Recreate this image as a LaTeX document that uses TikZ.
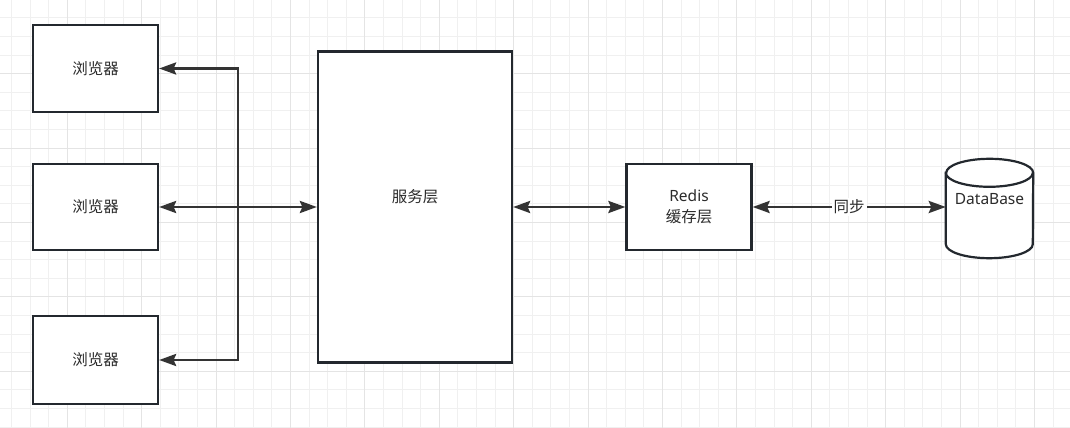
\documentclass[tikz,border=0pt]{standalone}
\usepackage{fontspec}
\setmainfont{Noto Sans}
\newfontfamily\cjk{Noto Sans CJK SC}
\usetikzlibrary{arrows.meta}
\definecolor{edgecol}{HTML}{23282E}
\definecolor{linecol}{HTML}{333333}
\definecolor{textcol}{HTML}{2B2B2B}
\definecolor{minorcol}{HTML}{F0F0F0}
\definecolor{majorcol}{HTML}{E4E4E4}
\tikzset{
  box/.style={draw=edgecol, line width=2.2pt, fill=white, text=textcol,
    font=\fontsize{15.5}{21}\selectfont, align=center},
  conn/.style={draw=linecol, line width=2.8pt,
    arrows={Stealth[length=17pt,width=12pt,inset=2.5pt]-Stealth[length=17pt,width=12pt,inset=2.5pt]}},
  txt/.style={text=textcol, font=\fontsize{15.5}{21}\selectfont, inner sep=2pt}
}
\begin{document}
\begin{tikzpicture}[x=1pt,y=1pt]
  \useasboundingbox (0,0) rectangle (1070,428);
  \fill[white] (0,0) rectangle (1070,428);

  % Grid
  \foreach \i in {0,...,56} \draw[minorcol, line width=1pt] (11.5+18.6*\i,0) -- (11.5+18.6*\i,428);
  \foreach \j in {0,...,23} \draw[minorcol, line width=1pt] (0,428.7-18.6*\j) -- (1070,428.7-18.6*\j);
  \foreach \i in {0,...,13} \draw[majorcol, line width=1pt] (67.3+74.4*\i,0) -- (67.3+74.4*\i,428);
  \foreach \j in {1,...,5} \draw[majorcol, line width=1pt] (0,428.7-74.4*\j) -- (1070,428.7-74.4*\j);

  % Browsers
  \node[box, minimum width=125, minimum height=87] (b1) at (95.5,359.5) {\cjk 浏览器};
  \node[box, minimum width=125, minimum height=86] (b2) at (95.5,221) {\cjk 浏览器};
  \node[box, minimum width=125, minimum height=88] (b3) at (95.5,68) {\cjk 浏览器};

  % Service layer
  \node[box, minimum width=194, minimum height=311] (svc) at (415,221) {};
  \node[txt] (svclabel) at ([yshift=10]svc.center) {\cjk 服务层};

  % Redis
  \node[box, minimum width=125, minimum height=86] (redis) at (689,221) {Redis\\{\cjk 缓存层}};

  % Database
  \node[minimum width=87, minimum height=99, inner sep=0pt] (db) at (989.5,219.5) {};
  \draw[draw=edgecol, line width=2.2pt, fill=white] ([yshift=-14pt]db.north west) -- ([yshift=14pt]db.south west)
    arc[start angle=180, end angle=360, x radius=43.5pt, y radius=14pt] -- ([yshift=-14pt]db.north east)
    arc[start angle=0, end angle=180, x radius=43.5pt, y radius=14pt] -- cycle;
  \draw[draw=edgecol, line width=2.2pt] ([yshift=-14pt]db.north west)
    arc[start angle=180, end angle=360, x radius=43.5pt, y radius=14pt];
  \node[txt] (dblabel) at ([yshift=9.5]db.center) {DataBase};

  % Connectors
  \coordinate (hub) at (238,221);
  \draw[conn] (b1.east) -| (hub) |- (b3.east);
  \draw[conn] (b2.east) -- (b2.east -| svc.west);
  \draw[conn] (svc.east |- redis.west) -- (redis.west);
  \draw[conn] (redis.east) -- (redis.east -| db.west)
    node[midway, fill=white, txt] (sync) {\cjk 同步};

\end{tikzpicture}
\end{document}
